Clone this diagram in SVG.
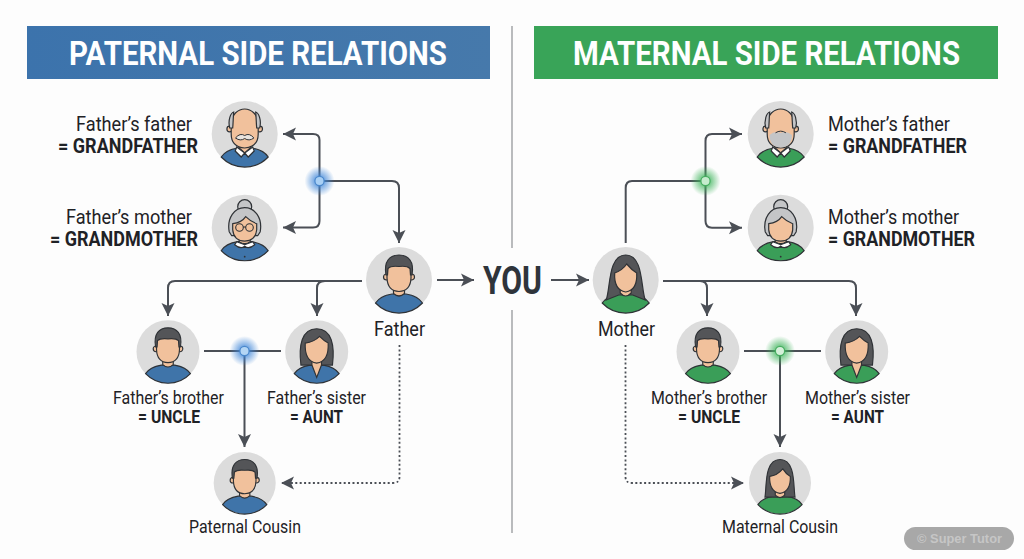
<svg xmlns="http://www.w3.org/2000/svg" xmlns:xlink="http://www.w3.org/1999/xlink" width="1024" height="559" viewBox="0 0 1024 559">
<style>
text{font-family:Roboto,"Liberation Sans",sans-serif;fill:#1f2226}
.t{font-size:34px;font-weight:700;fill:#fff}
.l{font-size:21px}
.b{font-size:20.5px;font-weight:700}
.s{font-size:18px}
.sb{font-size:17.5px;font-weight:700}
.c{fill:none;stroke:#4b4f56;stroke-width:2}
.d{stroke-dasharray:2 2.4;stroke-width:1.8}
.pa{color:#3f74a9}
.ma{color:#3a9e58}
.o{stroke:#2f3236;stroke-width:1.2}
.sk{fill:#f1c19c}
.h{fill:#545558}
.g{fill:#c4c5c7}
</style>
<defs>
<marker id="ah" markerUnits="userSpaceOnUse" markerWidth="14" markerHeight="14" refX="13" refY="7" orient="auto"><path d="M13,7 L0,0.5 L3,7 L0,13.500Z" fill="#4b4f56"/></marker>
<radialGradient id="gb"><stop offset="0.25" stop-color="#3f86d8" stop-opacity=".8"/><stop offset="1" stop-color="#3f86d8" stop-opacity="0"/></radialGradient>
<radialGradient id="gg"><stop offset="0.25" stop-color="#3fb45c" stop-opacity=".8"/><stop offset="1" stop-color="#3fb45c" stop-opacity="0"/></radialGradient>
<linearGradient id="hb" x1="0" x2="1"><stop offset="0" stop-color="#3c73ac"/><stop offset="1" stop-color="#4679ab"/></linearGradient>
<g id="base">
<circle r="33" fill="#dcdcdc"/>
<path d="M-23.500,23 Q-19,16 -7,14 L7,14 Q19,16 23.500,23 A32.500,32.500 0 0 1 -23.500,23Z" fill="currentColor" class="o"/>
</g>
<g id="man">
<use xlink:href="#base"/>
<path d="M-5.500,7 L-5.500,13.500 Q0,18.500 5.500,13.500 L5.500,7Z" class="sk o"/>
<circle cx="-12.500" cy="-3" r="3" class="sk o"/><circle cx="12.500" cy="-3" r="3" class="sk o"/>
<path d="M-12,-6 L-12,-2 Q-11.500,11 0,11.500 Q11.500,11 12,-2 L12,-6 Q12,-20 0,-20 Q-12,-20 -12,-6Z" class="sk o"/>
<path d="M-13,-5 C-15.500,-19 -9,-25 0,-25 C9,-25 15.500,-19 13,-5 L11.500,-5 L11,-11.500 Q8,-14.500 0,-13.500 Q-8,-14.500 -11,-11.500 L-11.500,-5Z" class="h o"/>
</g>
<g id="bob">
<use xlink:href="#base"/>
<path d="M-16.500,14 C-19,-6 -16,-24 0,-24 C16,-24 19,-6 16.500,14 L6,14 L-6,14Z" class="h o"/>
<path d="M-5,6 L-5,14 L0,27 L5,14 L5,6Z" class="sk o"/>
<path d="M-12,-9 Q-3,-10 3,-16 Q8,-11 12,-9 Q13,10 0,12 Q-13,10 -12,-9Z" class="sk o"/>
</g>
<g id="long">
<use xlink:href="#base"/>
<path d="M-19.500,20 C-15,8 -18,-25 0,-25 C18,-25 15,8 19.500,20 L7,15 L-7,15Z" class="h o"/>
<path d="M-5.500,6 L-5.500,13 Q0,19 5.500,13 L5.500,6Z" class="sk o"/>
<path d="M-11,-7 Q-3,-10 1,-16 Q6,-10 11,-7 Q12,10 0,12 Q-12,10 -11,-7Z" class="sk o"/>
</g>
<g id="longer">
<use xlink:href="#base"/>
<path d="M-16,15 C-14,4 -17,-25 0,-25 C17,-25 14,4 16,15 L6,15 L-6,15Z" class="h o"/>
<path d="M-5,6 L-5,13 Q0,18 5,13 L5,6Z" class="sk o"/>
<path d="M-11,-7 Q-3,-8 3,-15 Q6,-10 11,-7 Q11.500,9 0,11 Q-11.500,9 -11,-7Z" class="sk o"/>
</g>
<path id="collar" d="M-8,13 L0,19 L-3.500,23 L-9.500,17Z M8,13 L0,19 L3.500,23 L9.500,17Z" fill="#fff" class="o"/>
<g id="oldman">
<use xlink:href="#base"/>
<path d="M-5.500,9 L-5.500,14 L0,19 L5.500,14 L5.500,9Z" class="sk o"/>
<use xlink:href="#collar"/>
<circle cx="-15" cy="-5" r="2.800" class="sk o"/><circle cx="15" cy="-5" r="2.800" class="sk o"/>
<path d="M-13.500,-10 C-13.500,-20 -6,-25 0,-25 C6,-25 13.500,-20 13.500,-10 L13.500,0 Q13.500,13 0,14 Q-13.500,13 -13.500,0Z" class="sk o"/>
<path d="M-15,-6 C-17,-14 -14,-21 -11,-22 C-11.500,-17 -11.500,-11 -12,-6Z M15,-6 C17,-14 14,-21 11,-22 C11.500,-17 11.500,-11 12,-6Z" class="g o"/>
</g>
<g id="oldwoman">
<use xlink:href="#base"/>
<circle cy="-21" r="7" class="g o"/>
<path d="M-5.500,8 L-5.500,14 Q0,18 5.500,14 L5.500,8Z" class="sk o"/>
<path d="M-8,14 L0,17 L8,14 L10,17 Q4,22 0,18.500 Q-4,22 -10,17Z" fill="#fff" class="o"/>
<circle cy="29" r=".9" fill="#2f3236"/>
<path d="M-15.500,4 C-18,-10 -10,-20 0,-20 C10,-20 18,-10 15.500,4 L13,8 L-13,8Z" class="g o"/>
<path d="M-12,-4 Q-3,-5 1,-11 Q6,-6 12,-4 L12,2 Q11,13 0,13.500 Q-11,13 -12,2Z" class="sk o"/>
</g>
</defs>
<rect width="1024" height="559" fill="#fdfdfd"/>
<g id="dividers" stroke="#a9abad" stroke-width="1.600"><path d="M512,26V248M512,310V533"/></g>
<g id="header-paternal"><rect x="27" y="26" width="463" height="53" fill="url(#hb)"/><text class="t" x="69" y="65" textLength="378" lengthAdjust="spacingAndGlyphs">PATERNAL SIDE RELATIONS</text></g>
<g id="header-maternal"><rect x="534" y="26" width="464" height="53" fill="#39a458"/><text class="t" x="573" y="65" textLength="387" lengthAdjust="spacingAndGlyphs">MATERNAL SIDE RELATIONS</text></g>
<g id="connectors">
<g class="c">
<path d="M319.500,181V140Q319.500,134 313,134H283" marker-end="url(#ah)"/>
<path d="M319.500,181V221Q319.500,227.500 313,227.500H283" marker-end="url(#ah)"/>
<path d="M319.500,181H392Q399,181 399,188V243" marker-end="url(#ah)"/>
<path d="M362,281H175Q168,281 168,288V316" marker-end="url(#ah)"/>
<path d="M325,281Q317,281 317,288V316" marker-end="url(#ah)"/>
<path d="M204,351H281"/>
<path d="M244.500,351V447" marker-end="url(#ah)"/>
<path class="d" d="M399.500,345V477Q399.500,483 393,483H281" marker-end="url(#ah)"/>
<path d="M437,280H474" marker-end="url(#ah)"/>
<path d="M551,280H589" marker-end="url(#ah)"/>
<path d="M625.700,243V188Q625.700,181 632,181H705.500"/>
<path d="M705.500,181V141Q705.500,134 712,134H742" marker-end="url(#ah)"/>
<path d="M705.500,181V221Q705.500,227.700 712,227.700H742" marker-end="url(#ah)"/>
<path d="M663,281H849Q856,281 856,288V316" marker-end="url(#ah)"/>
<path d="M700,281Q707,281 707,288V316" marker-end="url(#ah)"/>
<path d="M744,351H821"/>
<path d="M780,351V447" marker-end="url(#ah)"/>
<path class="d" d="M625.500,345V477Q625.500,483 632,483H744" marker-end="url(#ah)"/>
</g>
<g id="junctions">
<circle cx="319.500" cy="181" r="15" fill="url(#gb)"/><circle cx="319.500" cy="181" r="4.600" fill="#a9d0f5" stroke="#4a88cc" stroke-width="1.200"/>
<circle cx="244.500" cy="351" r="15" fill="url(#gb)"/><circle cx="244.500" cy="351" r="4.600" fill="#b4d6f5" stroke="#4a88cc" stroke-width="1.200"/>
<circle cx="705.500" cy="181" r="15" fill="url(#gg)"/><circle cx="705.500" cy="181" r="4.600" fill="#c5eccd" stroke="#46ad60" stroke-width="1.200"/>
<circle cx="780" cy="351" r="15" fill="url(#gg)"/><circle cx="780" cy="351" r="4.600" fill="#d5f0da" stroke="#46ad60" stroke-width="1.200"/>
</g>
</g>
<g id="you"><text x="483" y="294" style="font-size:38px;font-weight:700;fill:#2f343b" textLength="59" lengthAdjust="spacingAndGlyphs">YOU</text></g>

<g id="paternal-grandfather" class="pa"><use xlink:href="#oldman" transform="translate(244.700,134)"/>
<path d="M235.500,138 Q240,132.500 244.700,135.500 Q249.400,132.500 253.900,138 Q249,141.500 244.700,138.500 Q240.400,141.500 235.500,138Z" fill="#e9e4df" stroke="#2f3236" stroke-width="1"/>
<text class="l" x="76" y="131" textLength="116" lengthAdjust="spacingAndGlyphs">Father’s father</text><text class="b" x="58" y="153" textLength="140" lengthAdjust="spacingAndGlyphs">= GRANDFATHER</text></g>
<g id="paternal-grandmother" class="pa"><use xlink:href="#oldwoman" transform="translate(244.700,227.700)"/>
<g fill="none" stroke="#2f3236" stroke-width="1.100"><circle cx="239.500" cy="227.500" r="3.800"/><circle cx="249.500" cy="227.500" r="3.800"/><path d="M243.300,227H245.700"/></g>
<text class="l" x="66" y="224" textLength="126" lengthAdjust="spacingAndGlyphs">Father’s mother</text><text class="b" x="50" y="246" textLength="148" lengthAdjust="spacingAndGlyphs">= GRANDMOTHER</text></g>
<g id="father" class="pa"><use xlink:href="#man" transform="translate(399,280)"/><text class="l" x="374" y="336" textLength="51" lengthAdjust="spacingAndGlyphs">Father</text></g>
<g id="paternal-uncle" class="pa"><use xlink:href="#man" transform="translate(168,351.700) scale(.955)"/><text class="s" x="113" y="404" textLength="111" lengthAdjust="spacingAndGlyphs">Father’s brother</text><text class="sb" x="138" y="423" textLength="62" lengthAdjust="spacingAndGlyphs">= UNCLE</text></g>
<g id="paternal-aunt" class="pa"><use xlink:href="#bob" transform="translate(316.700,351.700) scale(.955)"/><text class="s" x="267" y="404" textLength="99" lengthAdjust="spacingAndGlyphs">Father’s sister</text><text class="sb" x="290" y="423" textLength="53" lengthAdjust="spacingAndGlyphs">= AUNT</text></g>
<g id="paternal-cousin" class="pa"><use xlink:href="#man" transform="translate(244.700,483) scale(.94)"/><text class="s" x="189" y="533" textLength="112" lengthAdjust="spacingAndGlyphs">Paternal Cousin</text></g>

<g id="mother" class="ma"><use xlink:href="#long" transform="translate(625.700,280)"/><text class="l" x="598" y="336" textLength="57" lengthAdjust="spacingAndGlyphs">Mother</text></g>
<g id="maternal-grandfather" class="ma"><use xlink:href="#oldman" transform="translate(780.700,134)"/>
<path d="M769.500,135 Q775,130 780.700,133 Q786.400,130 791.900,135 Q792,147 780.700,147.500 Q769.500,147 769.500,135Z" class="g" stroke="none"/>
<path d="M775.500,132.800 Q780.700,129.500 785.900,132.800" fill="none" stroke="#2f3236" stroke-width="1"/>
<text class="l" x="828" y="131" textLength="122" lengthAdjust="spacingAndGlyphs">Mother’s father</text><text class="b" x="828" y="153" textLength="139" lengthAdjust="spacingAndGlyphs">= GRANDFATHER</text></g>
<g id="maternal-grandmother" class="ma"><use xlink:href="#oldwoman" transform="translate(780.700,227.700)"/><text class="l" x="828" y="224" textLength="131" lengthAdjust="spacingAndGlyphs">Mother’s mother</text><text class="b" x="828" y="246" textLength="147" lengthAdjust="spacingAndGlyphs">= GRANDMOTHER</text></g>
<g id="maternal-uncle" class="ma"><use xlink:href="#man" transform="translate(708,351.700) scale(.955)"/><text class="s" x="651" y="404" textLength="116" lengthAdjust="spacingAndGlyphs">Mother’s brother</text><text class="sb" x="678" y="423" textLength="62" lengthAdjust="spacingAndGlyphs">= UNCLE</text></g>
<g id="maternal-aunt" class="ma"><use xlink:href="#bob" transform="translate(856.700,351.700) scale(.955)"/><text class="s" x="805" y="404" textLength="105" lengthAdjust="spacingAndGlyphs">Mother’s sister</text><text class="sb" x="831" y="423" textLength="53" lengthAdjust="spacingAndGlyphs">= AUNT</text></g>
<g id="maternal-cousin" class="ma"><use xlink:href="#longer" transform="translate(780,483) scale(.94)"/><text class="s" x="722" y="533" textLength="116" lengthAdjust="spacingAndGlyphs">Maternal Cousin</text></g>
<g id="watermark"><rect x="904" y="527" width="110" height="23" rx="11.500" fill="#a8a8a8"/><text x="917" y="543" style="font-family:'Liberation Sans',sans-serif;font-size:13px;font-weight:700;fill:#c6c6c6" textLength="85" lengthAdjust="spacingAndGlyphs">© Super Tutor</text></g>
</svg>
